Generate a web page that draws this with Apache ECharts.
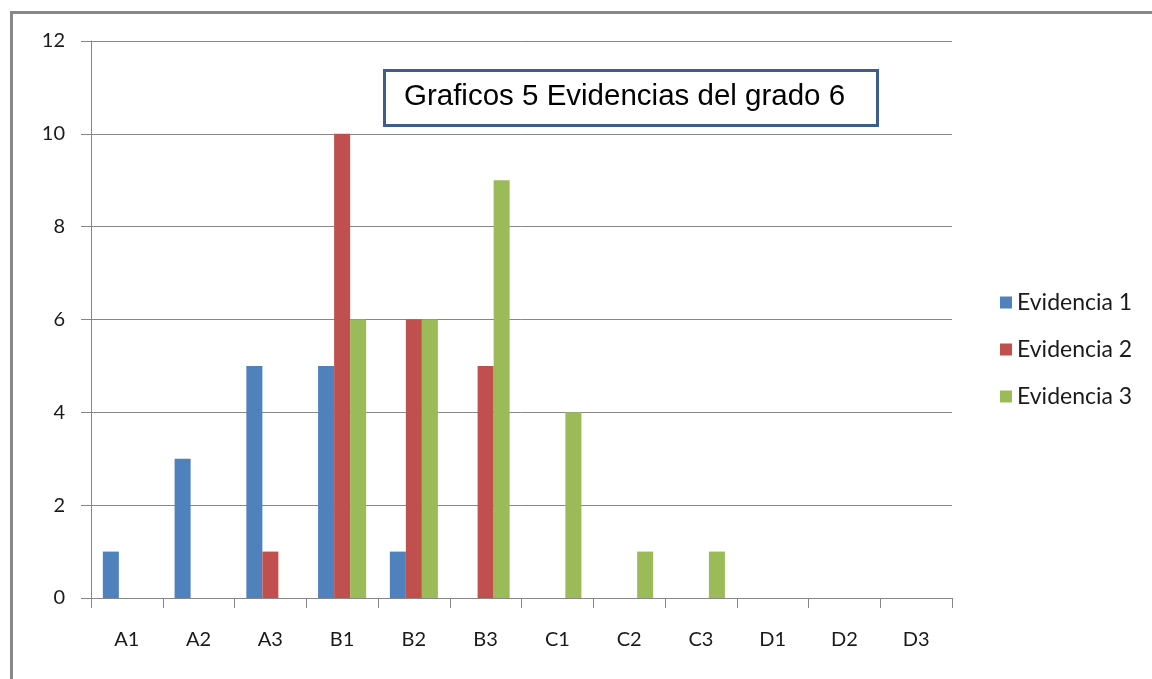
<!DOCTYPE html>
<html>
<head>
<meta charset="utf-8">
<script src="https://cdn.jsdelivr.net/npm/echarts@6/dist/echarts.min.js"></script>
<style>html,body{margin:0;padding:0;background:#fff;}#c{width:1152px;height:679px;}</style>
</head>
<body>
<div id="c"></div>
<script>
var categories = ['A1','A2','A3','B1','B2','B3','C1','C2','C3','D1','D2','D3'];
var evidencia1 = [1,3,5,5,1,0,0,0,0,0,0,0];
var evidencia2 = [0,0,1,10,6,5,0,0,0,0,0,0];
var evidencia3 = [0,0,0,6,6,9,4,1,1,0,0,0];
var seriesNames = ['Evidencia 1','Evidencia 2','Evidencia 3'];
var titleText = 'Graficos 5 Evidencias del grado 6';
var yTicks = {min:0, max:12, interval:2};

var chart = echarts.init(document.getElementById('c'));
var font = 'Lato, Open Sans, sans-serif';
chart.setOption({
  backgroundColor:'#fff',
  animation:false,
  color:['#4F81BD','#C0504D','#9BBB59'],
  grid:{left:91,right:200,top:41,bottom:81,containLabel:false},
  legend:{
    orient:'vertical', left:995, top:286,
    itemWidth:12, itemHeight:12, itemGap:24,
    icon:'rect',
    textStyle:{fontSize:23, color:'#1a1a1a', fontFamily:font},
    data:seriesNames
  },
  xAxis:{
    type:'category', data:categories, boundaryGap:true,
    axisLine:{lineStyle:{color:'#868686',width:1}},
    axisTick:{show:true,alignWithLabel:false,length:10,lineStyle:{color:'#868686'}},
    axisLabel:{fontSize:20,color:'#1a1a1a',margin:32,fontFamily:font}
  },
  yAxis:{
    type:'value', min:yTicks.min, max:yTicks.max, interval:yTicks.interval,
    axisLine:{show:true,lineStyle:{color:'#868686',width:1}},
    axisTick:{show:true,length:10,lineStyle:{color:'#868686'}},
    splitLine:{show:true,lineStyle:{color:'#868686',width:1}},
    axisLabel:{fontSize:20,color:'#1a1a1a',margin:26,fontFamily:font}
  },
  series:[
    {name:seriesNames[0],type:'bar',data:evidencia1,barGap:'0%',barCategoryGap:'33%'},
    {name:seriesNames[1],type:'bar',data:evidencia2,barGap:'0%',barCategoryGap:'33%'},
    {name:seriesNames[2],type:'bar',data:evidencia3,barGap:'0%',barCategoryGap:'33%'}
  ],
  graphic:[
    {type:'rect',left:9,top:10,shape:{width:1200,height:700},style:{fill:'none',stroke:'#888',lineWidth:3},z:100},
    {type:'rect',left:383,top:69,shape:{width:493,height:55},style:{fill:'#fff',stroke:'#3B5E8C',lineWidth:3},z:100},
    {type:'text',left:404,top:82,style:{text:titleText,fontSize:29.5,fontFamily:'Liberation Sans, Arial, sans-serif',fill:'#000'},z:101}
  ]
});
</script>
</body>
</html>
